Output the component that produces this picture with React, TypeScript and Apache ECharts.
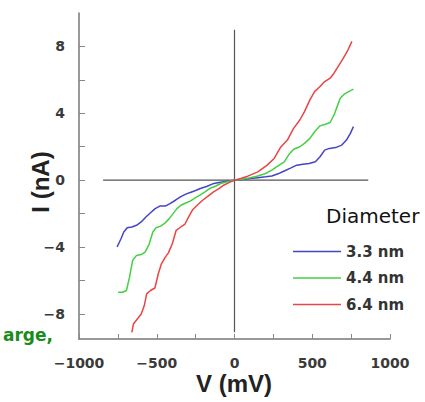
import React, { useEffect, useRef } from "react";
import * as echarts from "echarts";

// Legend / series names
const seriesNames = ["3.3 nm", "4.4 nm", "6.4 nm"];

// Axis ticks and labels
const xTickValues = [-1000, -750, -500, -250, 0, 250, 500, 750, 1000];
const xLabelValues = [-1000, -500, 0, 500, 1000];
const yTickValues = [-8, -6, -4, -2, 0, 2, 4, 6, 8];
const yLabelValues = [-8, -4, 0, 4, 8];

// I-V curves: [V (mV), I (nA)]
const d33: number[][] = [
  [-755, -4.0], [-730, -3.5], [-712, -3.1], [-690, -2.85], [-660, -2.8], [-630, -2.7],
  [-600, -2.5], [-570, -2.2], [-540, -1.95], [-510, -1.7], [-480, -1.55], [-445, -1.55],
  [-415, -1.4], [-380, -1.2], [-345, -0.98], [-310, -0.82], [-280, -0.72], [-250, -0.62],
  [-220, -0.5], [-180, -0.38], [-140, -0.22], [-100, -0.14], [-50, -0.07], [0, 0],
  [50, 0.04], [100, 0.1], [150, 0.15], [200, 0.2], [240, 0.25], [280, 0.38], [320, 0.55],
  [360, 0.72], [400, 0.9], [440, 0.95], [480, 1.0], [520, 1.1], [550, 1.4], [580, 1.8],
  [610, 1.9], [650, 1.95], [690, 2.1], [720, 2.4], [745, 2.8], [765, 3.2],
];
const d44: number[][] = [
  [-748, -6.7], [-720, -6.7], [-695, -6.6], [-675, -5.8], [-655, -4.8], [-630, -4.5],
  [-600, -4.45], [-575, -4.3], [-550, -3.85], [-525, -3.1], [-505, -2.85], [-475, -2.75],
  [-445, -2.55], [-420, -2.3], [-395, -2.0], [-370, -1.7], [-345, -1.5], [-310, -1.35],
  [-285, -1.25], [-250, -1.05], [-220, -0.88], [-190, -0.7], [-160, -0.5], [-120, -0.35],
  [-90, -0.2], [-45, -0.1], [0, 0], [50, 0.06], [100, 0.15], [150, 0.25], [200, 0.4],
  [240, 0.6], [280, 0.85], [320, 1.1], [355, 1.6], [380, 1.85], [420, 2.0], [450, 2.2],
  [485, 2.5], [515, 2.9], [550, 3.25], [585, 3.35], [615, 3.45], [640, 3.9], [660, 4.4],
  [680, 4.9], [700, 5.1], [725, 5.25], [765, 5.45],
];
const d64: number[][] = [
  [-660, -9.1], [-650, -8.6], [-625, -8.3], [-600, -8.0], [-580, -7.5], [-565, -6.8],
  [-540, -6.6], [-512, -6.45], [-490, -5.6], [-470, -5.0], [-445, -4.6], [-425, -4.35],
  [-400, -3.8], [-375, -3.0], [-345, -2.8], [-320, -2.65], [-295, -2.2], [-268, -1.75],
  [-240, -1.5], [-205, -1.2], [-170, -0.95], [-135, -0.7], [-100, -0.5], [-70, -0.3],
  [-35, -0.15], [0, 0], [40, 0.1], [85, 0.24], [150, 0.5], [210, 0.9], [255, 1.3],
  [295, 1.95], [340, 2.4], [380, 3.1], [420, 3.6], [450, 4.1], [485, 4.8], [515, 5.3],
  [550, 5.6], [580, 5.9], [615, 6.1], [640, 6.4], [660, 6.7], [680, 7.0], [700, 7.3],
  [725, 7.7], [755, 8.3],
];

// Cross-hair axes through the origin
const crossVertical: number[][] = [[0, 9.0], [0, -9.1]];
const crossHorizontal: number[][] = [[-845, 0], [860, 0]];

const colors = ["#4444c8", "#44cf44", "#ea4444"];

const fmt = (v: number) => (v < 0 ? "\u2212" + Math.abs(v) : String(v));

export default function App() {
  const ref = useRef<HTMLDivElement>(null);
  useEffect(() => {
    if (!ref.current) return;
    const chart = echarts.init(ref.current, undefined, { renderer: "svg" });
    const tickFont = {
      fontFamily: "DejaVu Sans",
      fontWeight: "bold" as const,
      fontSize: 14,
      color: "#3a3a3a",
    };
    const lineSeries = (name: string, data: number[][], color: string) => ({
      name,
      type: "line",
      data,
      symbol: "none",
      showSymbol: false,
      lineStyle: { color, width: 1.5 },
      itemStyle: { color },
      z: 3,
    });
    const crossSeries = (data: number[][]) => ({
      type: "line",
      data,
      symbol: "none",
      silent: true,
      lineStyle: { color: "#555", width: 1.2 },
      z: 2,
    });
    chart.setOption({
      animation: false,
      backgroundColor: "#fff",
      grid: { left: 79, right: 35, top: 13, bottom: 63, outerBoundsMode: "none" },
      xAxis: {
        type: "value",
        min: -1000,
        max: 1000,
        axisLine: { show: true, onZero: false, lineStyle: { color: "#777", width: 1.5 } },
        axisTick: { show: true, inside: true, length: 5, customValues: xTickValues, lineStyle: { color: "#888" } },
        axisLabel: { customValues: xLabelValues, margin: 17, formatter: fmt, ...tickFont },
        splitLine: { show: false },
      },
      yAxis: {
        type: "value",
        min: -9.5,
        max: 10,
        axisLine: { show: true, onZero: false, lineStyle: { color: "#777", width: 1.5 } },
        axisTick: { show: true, inside: true, length: 6, customValues: yTickValues, lineStyle: { color: "#888" } },
        axisLabel: { customValues: yLabelValues, margin: 14, formatter: fmt, ...tickFont },
        splitLine: { show: false },
      },
      legend: {
        data: seriesNames.map((n) => ({ name: n, icon: "rect" })),
        orient: "vertical",
        left: 288,
        top: 239,
        itemWidth: 48,
        itemHeight: 1.5,
        itemGap: 11.5,
        textStyle: {
          fontFamily: "DejaVu Sans",
          fontWeight: "bold",
          fontSize: 15,
          color: "#333",
          lineHeight: 14,
        },
      },
      series: [
        crossSeries(crossVertical),
        crossSeries(crossHorizontal),
        lineSeries(seriesNames[0], d33, colors[0]),
        lineSeries(seriesNames[1], d44, colors[1]),
        lineSeries(seriesNames[2], d64, colors[2]),
      ],
      graphic: [
        {
          type: "text",
          x: 40,
          y: 182,
          rotation: Math.PI / 2,
          style: {
            text: "I (nA)",
            font: "bold 24px 'Liberation Sans', Arial, sans-serif",
            fill: "#222",
            textAlign: "center",
            textVerticalAlign: "middle",
          },
        },
        {
          type: "text",
          x: 234,
          y: 383,
          style: {
            text: "V (mV)",
            font: "bold 24px 'Liberation Sans', Arial, sans-serif",
            fill: "#222",
            textAlign: "center",
            textVerticalAlign: "middle",
          },
        },
        {
          type: "text",
          x: 326,
          y: 216,
          style: {
            text: "Diameter",
            font: "20px 'DejaVu Sans', sans-serif",
            fill: "#111",
            textAlign: "left",
            textVerticalAlign: "middle",
          },
        },
        {
          type: "text",
          x: 53,
          y: 335,
          style: {
            text: "arge,",
            font: "bold 17px 'DejaVu Sans', sans-serif",
            fill: "#1a8c1a",
            textAlign: "right",
            textVerticalAlign: "middle",
          },
        },
      ],
    });
    return () => chart.dispose();
  }, []);
  return <div ref={ref} style={{ width: 425, height: 402, position: "absolute", left: 0, top: 0 }} />;
}
